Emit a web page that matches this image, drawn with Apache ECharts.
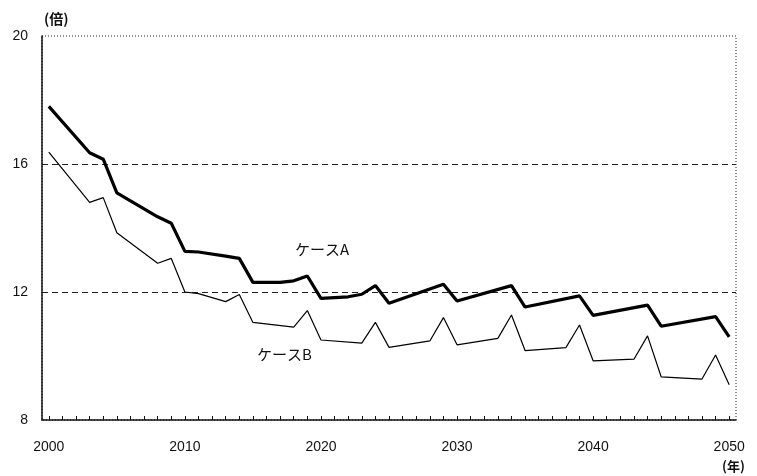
<!DOCTYPE html>
<html>
<head>
<meta charset="utf-8">
<script src="https://cdn.jsdelivr.net/npm/echarts@6/dist/echarts.min.js"></script>
<style>
  html, body { margin: 0; padding: 0; background: #fff; }
  #chart { width: 757px; height: 476px; }
</style>
</head>
<body>
<div id="chart"></div>
<script>
// years on the x axis, 2000-2050
const years = [];
for (let y = 2000; y <= 2050; y++) years.push(String(y));

// vertices (year, value); other years are joined by straight lines
const caseAPoints = [
  [2000, 17.8], [2003, 16.35], [2004, 16.15], [2005, 15.1], [2008, 14.35], [2009, 14.15],
  [2010, 13.27], [2011, 13.25], [2013, 13.12], [2014, 13.05], [2015, 12.3], [2017, 12.3],
  [2018, 12.35], [2019, 12.5], [2020, 11.8], [2022, 11.85], [2023, 11.93], [2024, 12.2],
  [2025, 11.65], [2029, 12.24], [2030, 11.72], [2034, 12.2], [2035, 11.53], [2039, 11.88],
  [2040, 11.27], [2044, 11.59], [2045, 10.93], [2049, 11.23], [2050, 10.6]
];
const caseBPoints = [
  [2000, 16.37], [2003, 14.8], [2004, 14.95], [2005, 13.85], [2008, 12.9], [2009, 13.05],
  [2010, 12.0], [2011, 11.95], [2013, 11.7], [2014, 11.92], [2015, 11.05], [2018, 10.9],
  [2019, 11.42], [2020, 10.5], [2023, 10.4], [2024, 11.05], [2025, 10.27], [2028, 10.47],
  [2029, 11.2], [2030, 10.35], [2033, 10.55], [2034, 11.28], [2035, 10.17], [2038, 10.26],
  [2039, 10.97], [2040, 9.85], [2043, 9.9], [2044, 10.63], [2045, 9.35], [2048, 9.28],
  [2049, 10.03], [2050, 9.1]
];
const yTicks = [8, 12, 16, 20];

function toSeries(points) {
  const arr = years.map(() => null);
  points.forEach(([yr, v]) => { arr[yr - 2000] = v; });
  return arr;
}

const chart = echarts.init(document.getElementById('chart'));
const numFont = '"Liberation Sans", Arial, sans-serif';
const jpFont = '"Noto Sans CJK JP", sans-serif';

chart.setOption({
  animation: false,
  grid: {
    left: 42, right: 21, top: 36, bottom: 56,
    show: true,
    borderColor: '#222',
    borderWidth: 1,
    borderType: [1, 2]
  },
  xAxis: {
    type: 'category',
    data: years,
    boundaryGap: true,
    axisLine: { lineStyle: { color: '#111', width: 1.5 } },
    axisTick: {
      show: true, inside: true, length: 4, interval: 0, alignWithLabel: true,
      lineStyle: { color: '#111', width: 1 }
    },
    axisLabel: {
      interval: (i, v) => Number(v) % 10 === 0,
      margin: 20,
      color: '#111',
      fontFamily: numFont,
      fontSize: 14
    },
    splitLine: { show: false }
  },
  yAxis: {
    type: 'value',
    min: yTicks[0],
    max: yTicks[yTicks.length - 1],
    interval: 4,
    axisLine: { show: true, lineStyle: { color: '#111', width: 1.5 } },
    axisTick: { show: false },
    axisLabel: {
      margin: 14,
      color: '#111',
      fontFamily: numFont,
      fontSize: 14
    },
    splitLine: {
      show: true,
      showMinLine: false,
      showMaxLine: false,
      lineStyle: { color: '#222', width: 1, type: [6, 4] }
    }
  },
  graphic: [
    { type: 'text', left: 44, top: 12, style: { text: '(倍)', font: 'bold 14px ' + jpFont, fill: '#111' } },
    { type: 'text', left: 722, top: 460, style: { text: '(年)', font: 'bold 13px ' + jpFont, fill: '#111' } },
    { type: 'text', left: 295, top: 242, style: { text: 'ケースA', font: '15px ' + jpFont, fill: '#111' } },
    { type: 'text', left: 257, top: 347, style: { text: 'ケースB', font: '15px ' + jpFont, fill: '#111' } }
  ],
  series: [
    {
      name: 'ケースA',
      type: 'line',
      data: toSeries(caseAPoints),
      connectNulls: true,
      symbol: 'none',
      lineStyle: { color: '#000', width: 3.2 }
    },
    {
      name: 'ケースB',
      type: 'line',
      data: toSeries(caseBPoints),
      connectNulls: true,
      symbol: 'none',
      lineStyle: { color: '#000', width: 1.2 }
    }
  ]
});
</script>
</body>
</html>
